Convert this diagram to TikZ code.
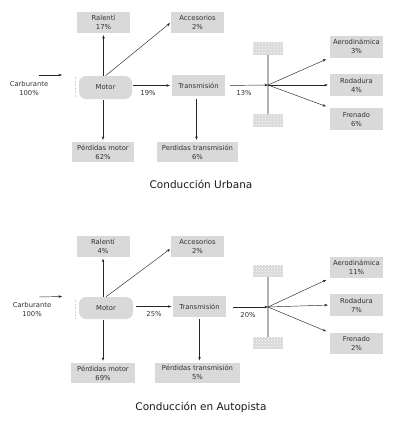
\documentclass[tikz,border=0pt]{standalone}
\usepackage{fontspec}
\setmainfont{DejaVu Sans}
\usetikzlibrary{arrows.meta,patterns}
\definecolor{boxgray}{RGB}{217,217,217}
\definecolor{txtgray}{RGB}{50,50,50}
\newcommand{\smallfnt}{\fontsize{6.8}{9}\selectfont}
\tikzset{
  ebox/.style={fill=boxgray, minimum width=53pt, minimum height=21pt, inner sep=0pt, align=center, font=\smallfnt, text=txtgray},
  motorbox/.style={ebox, rounded corners=7pt, minimum width=53pt, minimum height=23pt},
  arr/.style={-{Stealth[length=3.5pt,width=2.6pt]}, line width=0.45pt, draw=black!85},
  lbl/.style={font=\smallfnt, text=txtgray, inner sep=0pt, align=center},
  titletext/.style={font=\fontsize{10.5}{12}\selectfont, text=black!90, inner sep=0pt},
  wheelbox/.style={fill=gray!30, minimum width=30pt, minimum height=13pt, inner sep=0pt, postaction={pattern=crosshatch dots, pattern color=white}},
  axle/.style={draw=gray!60, line width=1.6pt},
  dashline/.style={draw=gray!35, dashed, line width=0.6pt, dash pattern=on 2pt off 1.5pt}
}
\begin{document}
\begin{tikzpicture}[x=1pt,y=-1pt]
\useasboundingbox (0,0) rectangle (400,426);
% ---------- Urban ----------
\node[ebox] (ral1) at (103.5,22.5) {Ralentí\\17\%};
\node[ebox] (acc1) at (197.5,22.5) {Accesorios\\2\%};
\node[lbl] (carb1) at (29,88.5) {Carburante\\100\%};
\coordinate (carbA1) at (39,75);
\coordinate (carbB1) at (62,75);
\node[motorbox] (mot1) at (105.5,87.5) {Motor};
\node[ebox] (tra1) at (198.5,85.5) {Transmisión};
\node[ebox, minimum height=22pt] (aer1) at (356.5,46.5) {Aerodinámica\\3\%};
\node[ebox, minimum height=22pt] (rod1) at (356.5,85) {Rodadura\\4\%};
\node[ebox, minimum height=22pt] (fre1) at (356.5,119) {Frenado\\6\%};
\node[ebox, minimum width=62pt, minimum height=20pt] (pmo1) at (103,152) {Pérdidas motor\\62\%};
\node[ebox, minimum width=81pt, minimum height=20pt] (ptr1) at (197.5,152) {Perdidas transmisión\\6\%};
\node[wheelbox] (wt1) at (268,48.5) {};
\node[wheelbox] (wb1) at (268,120.5) {};
\coordinate (j1) at (268,85);
\draw[axle] (wt1.south) -- (wb1.north);
\draw[dashline] (75,77) -- (75,97);
\node[lbl] (p19) at (148,93) {19\%};
\node[lbl] (p13) at (244,93) {13\%};
\draw[arr] (carbA1) -- (carbB1);
\draw[arr, shorten >=2pt] (ral1.south |- mot1.north) -- (ral1.south);
\draw[arr, shorten >=1pt] (mot1.north) -- (acc1.west);
\draw[arr, shorten >=2pt, shorten <=1pt] (mot1.east |- tra1.west) -- (tra1.west);
\draw[arr, shorten <=5pt] (tra1.east) -- (j1);
\draw[arr, shorten >=4pt] (j1) -- (aer1.south west);
\draw[arr, shorten >=2pt] (j1) -- (rod1.west);
\draw[arr, shorten >=4pt] (j1) -- (fre1.north west);
\draw[arr, shorten >=2pt, shorten <=1pt] (pmo1.north |- mot1.south) -- (pmo1.north);
\draw[arr, shorten >=2pt, shorten <=3pt] ([xshift=-2pt]tra1.south) -- ([xshift=-2pt]tra1.south |- ptr1.north);
\node[titletext] (t1) at (201,184) {Conducción Urbana};
% ---------- Highway ----------
\node[ebox] (ral2) at (103,246) {Ralentí\\4\%};
\node[ebox] (acc2) at (197.5,246.5) {Accesorios\\2\%};
\node[lbl] (carb2) at (32,309.5) {Carburante\\100\%};
\coordinate (carbA2) at (39,297);
\coordinate (carbB2) at (62,296.5);
\node[motorbox, minimum width=54pt, minimum height=22pt] (mot2) at (106,308) {Motor};
\node[ebox] (tra2) at (199.5,306.5) {Transmisión};
\node[ebox] (aer2) at (356.5,267.5) {Aerodinámica\\11\%};
\node[ebox, minimum height=22pt] (rod2) at (356.5,305) {Rodadura\\7\%};
\node[ebox] (fre2) at (356.5,343.5) {Frenado\\2\%};
\node[ebox, minimum width=64pt, minimum height=20pt] (pmo2) at (103,373) {Pérdidas motor\\69\%};
\node[ebox, minimum width=85pt, minimum height=20pt] (ptr2) at (197.5,372.5) {Pérdidas transmisión\\5\%};
\node[wheelbox, minimum height=12pt] (wt2) at (268,271) {};
\node[wheelbox, minimum height=12pt] (wb2) at (268,343) {};
\coordinate (j2) at (268,307);
\draw[axle] (wt2.south) -- (wb2.north);
\draw[dashline] (75,300) -- (75,318);
\node[lbl] (p25) at (154,314) {25\%};
\node[lbl] (p20) at (248,315) {20\%};
\draw[arr] (carbA2) -- (carbB2);
\draw[arr, shorten >=2pt] (ral2.south |- mot2.north) -- (ral2.south);
\draw[arr, shorten >=1pt] (mot2.north) -- ([yshift=-2pt]acc2.west);
\draw[arr, shorten >=1.5pt, shorten <=3pt] (mot2.east |- tra2.west) -- (tra2.west);
\draw[arr, shorten <=7pt] (tra2.east |- j2) -- (j2);
\draw[arr, shorten >=4pt] (j2) -- (aer2.south west);
\draw[arr, shorten >=2pt] (j2) -- (rod2.west);
\draw[arr, shorten >=4pt] (j2) -- (fre2.north west);
\draw[arr, shorten >=2pt, shorten <=1pt] (pmo2.north |- mot2.south) -- (pmo2.north);
\draw[arr, shorten >=2pt, shorten <=2pt] (tra2.south) -- (tra2.south |- ptr2.north);
\node[titletext] (t2) at (201,407) {Conducción en Autopista};
\end{tikzpicture}
\end{document}
